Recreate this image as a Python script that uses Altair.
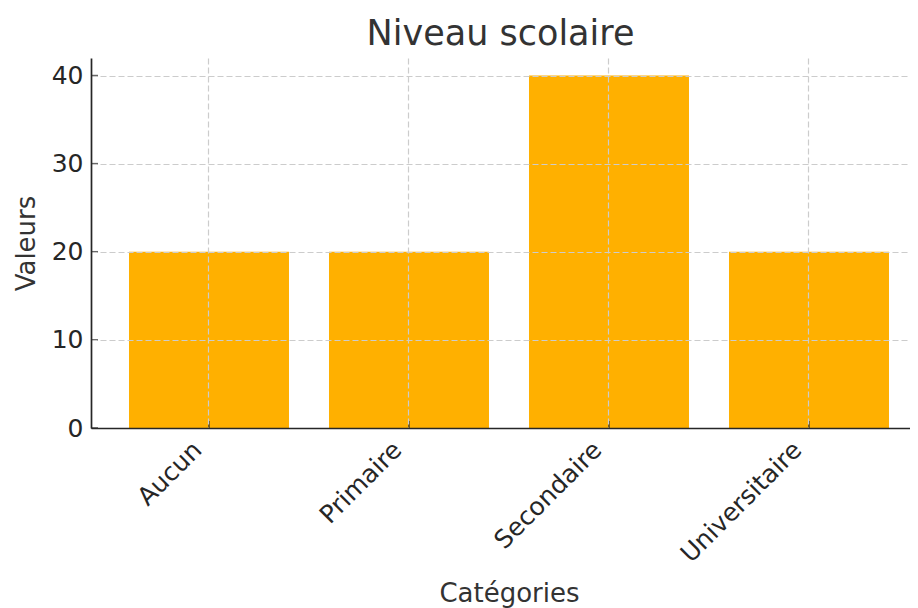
import altair as alt
import pandas as pd

categories = ["Aucun", "Primaire", "Secondaire", "Universitaire"]
values = [20, 20, 40, 20]
y_ticks = [0, 10, 20, 30, 40]

df = pd.DataFrame({"Catégorie": categories, "Valeur": values})
ticks_df = pd.DataFrame({"t": y_ticks})

FONT = "DejaVu Sans"
DARK = "#262626"

x_scale = alt.Scale(paddingInner=0.2, paddingOuter=0.1475, align=0.644)
y_scale = alt.Scale(domain=[0, 42], nice=False, zero=True)

x_enc = alt.X(
    "Catégorie:N",
    sort=categories,
    scale=x_scale,
    title="Catégories",
    axis=alt.Axis(
        labelAngle=-45,
        labelAlign="right",
        labelBaseline="top",
        labelFontSize=25,
        labelColor=DARK,
        labelPadding=9,
        labelOffset=-20,
        titleFontSize=26,
        titleFontWeight="normal",
        titleColor="#333333",
        titleX=418,
        titleY=173,
        titleAlign="center",
        titleBaseline="alphabetic",
        ticks=False,
        grid=True,
        gridColor="#cccccc",
        gridDash=[6, 3],
        gridWidth=1.2,
        domainColor=DARK,
        domainWidth=1.7,
        zindex=1,
    ),
)
y_enc = alt.Y(
    "Valeur:Q",
    scale=y_scale,
    title="Valeurs",
    axis=alt.Axis(
        values=y_ticks,
        labelFontSize=25,
        labelColor=DARK,
        labelPadding=8,
        titleFontSize=26,
        titleFontWeight="normal",
        titleColor="#333333",
        titlePadding=12,
        ticks=False,
        grid=True,
        gridColor="#cccccc",
        gridDash=[6, 3],
        gridWidth=1.2,
        domainColor=DARK,
        domainWidth=1.7,
        zindex=1,
    ),
)

bars = alt.Chart(df).mark_bar(color="#FFB000").encode(x=x_enc, y=y_enc)

x_ticks = alt.Chart(df).mark_tick(
    orient="vertical", size=7, thickness=1.7, color=DARK, yOffset=-3.5
).encode(
    x=alt.X("Catégorie:N", sort=categories),
    y=alt.datum(0),
)

y_tick_marks = alt.Chart(ticks_df).mark_tick(
    orient="horizontal", size=7, thickness=1.7, color=DARK
).encode(
    x=alt.value(3.5),
    y=alt.Y("t:Q"),
)

chart = alt.layer(bars, x_ticks, y_tick_marks).properties(
    width=819,
    height=370,
    title=alt.TitleParams(
        "Niveau scolaire", fontSize=35, font=FONT, fontWeight="normal",
        color="#333333", anchor="middle", offset=6
    ),
    autosize=alt.AutoSizeParams(type="none"),
    padding={"left": 83, "top": 50, "right": 0, "bottom": 190},
).configure(
    font=FONT,
).configure_axis(
    labelFont=FONT, titleFont=FONT
).configure_view(
    stroke=None
)

chart.save("out.html", embed_options={"renderer": "svg", "actions": False})
